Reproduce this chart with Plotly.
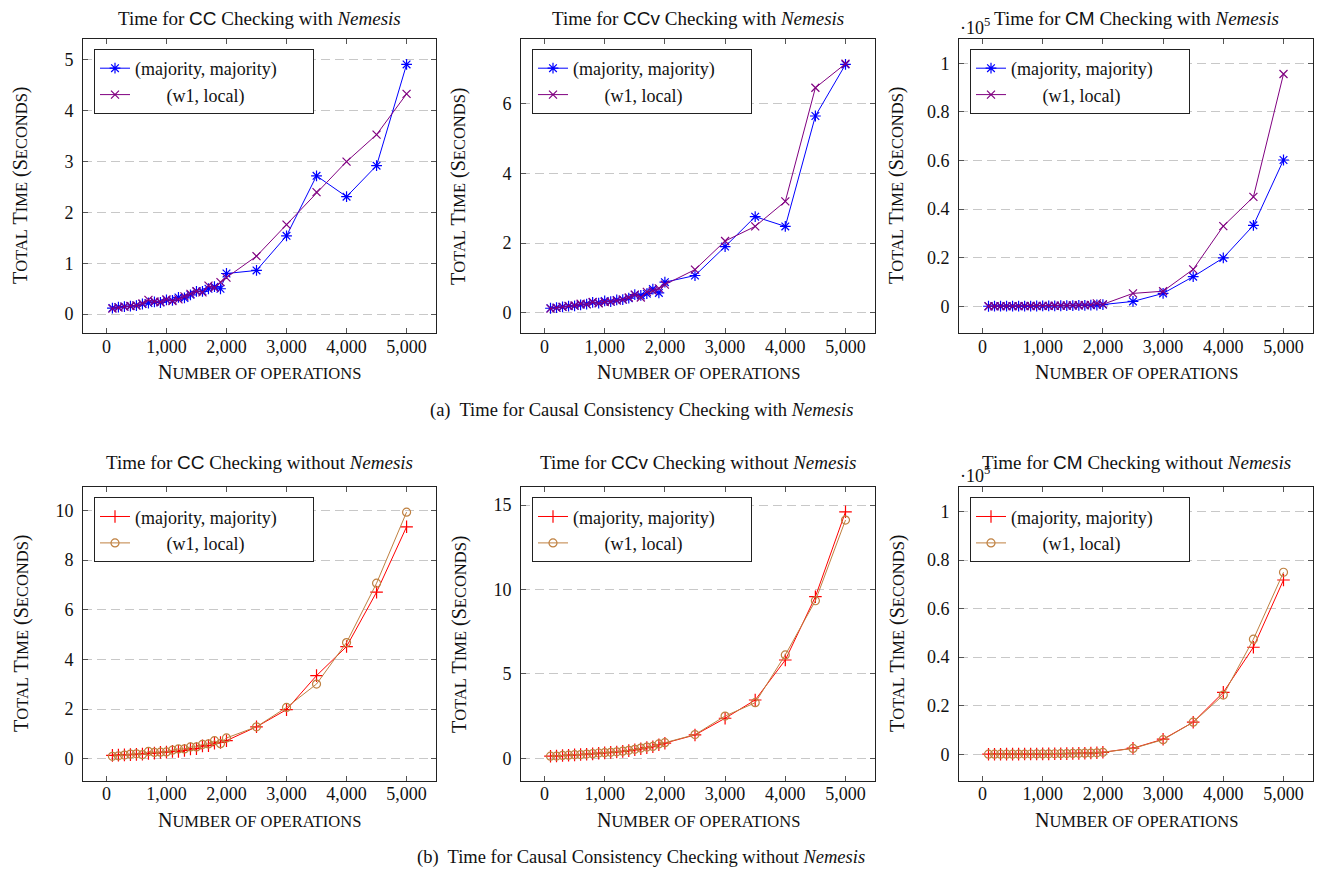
import plotly.graph_objects as go

# ---------------- data ----------------
ops = [100, 200, 300, 400, 500, 600, 700, 800, 900, 1000,
       1100, 1200, 1300, 1400, 1500, 1600, 1700, 1800, 1900, 2000,
       2500, 3000, 3500, 4000, 4500, 5000]

# (a) with Nemesis  (seconds)
cc_nem_majority = [0.12, 0.14, 0.15, 0.16, 0.17, 0.20, 0.22, 0.24, 0.23, 0.28,
                   0.27, 0.33, 0.32, 0.38, 0.45, 0.45, 0.50, 0.54, 0.50, 0.80,
                   0.86, 1.54, 2.72, 2.31, 2.92, 4.91]
cc_nem_local = [0.11, 0.13, 0.15, 0.16, 0.17, 0.21, 0.28, 0.25, 0.24, 0.29,
                0.26, 0.29, 0.35, 0.40, 0.45, 0.43, 0.56, 0.52, 0.63, 0.72,
                1.14, 1.76, 2.40, 3.00, 3.53, 4.33]

ccv_nem_majority = [0.13, 0.15, 0.17, 0.19, 0.20, 0.23, 0.25, 0.30, 0.28, 0.34,
                    0.32, 0.37, 0.38, 0.42, 0.52, 0.50, 0.55, 0.68, 0.57, 0.88,
                    1.07, 1.90, 2.76, 2.48, 5.65, 7.13]
ccv_nem_local = [0.12, 0.14, 0.17, 0.20, 0.21, 0.26, 0.24, 0.31, 0.27, 0.31,
                 0.32, 0.35, 0.38, 0.44, 0.52, 0.44, 0.60, 0.63, 0.70, 0.81,
                 1.24, 2.06, 2.48, 3.20, 6.46, 7.15]

cm_nem_majority = [10, 20, 30, 40, 50, 60, 80, 100, 120, 140,
                   160, 190, 220, 260, 300, 350, 400, 450, 520, 700,
                   2000, 5300, 12200, 19900, 33300, 60200]
cm_nem_local = [10, 20, 30, 40, 60, 70, 90, 110, 130, 160,
                190, 220, 260, 300, 350, 420, 500, 600, 1200, 800,
                5300, 6200, 15200, 33000, 45000, 95600]

# (b) without Nemesis (seconds)
cc_no_majority = [0.14, 0.15, 0.16, 0.17, 0.18, 0.19, 0.22, 0.23, 0.26, 0.27,
                  0.30, 0.30, 0.34, 0.40, 0.41, 0.52, 0.53, 0.63, 0.66, 0.73,
                  1.29, 1.98, 3.35, 4.52, 6.71, 9.34]
cc_no_local = [0.10, 0.12, 0.15, 0.19, 0.20, 0.17, 0.30, 0.26, 0.27, 0.28,
               0.35, 0.40, 0.40, 0.48, 0.48, 0.58, 0.60, 0.73, 0.61, 0.84,
               1.29, 2.07, 3.01, 4.68, 7.07, 9.93]

ccv_no_majority = [0.12, 0.13, 0.16, 0.18, 0.20, 0.22, 0.24, 0.26, 0.30, 0.32,
                   0.35, 0.37, 0.41, 0.45, 0.50, 0.56, 0.63, 0.68, 0.80, 0.89,
                   1.38, 2.37, 3.45, 5.82, 9.57, 14.60]
ccv_no_local = [0.12, 0.13, 0.17, 0.18, 0.21, 0.22, 0.25, 0.27, 0.31, 0.33,
                0.35, 0.38, 0.42, 0.47, 0.53, 0.60, 0.66, 0.70, 0.85, 0.92,
                1.40, 2.50, 3.29, 6.12, 9.33, 14.11]

cm_no_majority = [10, 20, 30, 40, 50, 60, 80, 100, 120, 140,
                  170, 200, 230, 270, 320, 370, 430, 500, 600, 800,
                  2500, 6200, 13200, 25500, 44100, 71800]
cm_no_local = [10, 20, 30, 40, 50, 60, 80, 100, 120, 140,
               170, 200, 230, 270, 320, 370, 430, 500, 600, 800,
               2400, 6000, 13200, 24400, 47400, 75000]

x_ticks = [0, 1000, 2000, 3000, 4000, 5000]
y_ticks = [
    [0, 1, 2, 3, 4, 5],
    [0, 2, 4, 6],
    [0, 20000, 40000, 60000, 80000, 100000],
    [0, 2, 4, 6, 8, 10],
    [0, 5, 10, 15],
    [0, 20000, 40000, 60000, 80000, 100000],
]
y_ticktext = [
    ["0", "1", "2", "3", "4", "5"],
    ["0", "2", "4", "6"],
    ["0", "0.2", "0.4", "0.6", "0.8", "1"],
    ["0", "2", "4", "6", "8", "10"],
    ["0", "5", "10", "15"],
    ["0", "0.2", "0.4", "0.6", "0.8", "1"],
]
series_labels = ["(majority, majority)", "(w1, local)"]
models = ["CC", "CCv", "CM", "CC", "CCv", "CM"]
modes = ["with", "with", "with", "without", "without", "without"]
captions = ["(a)  Time for Causal Consistency Checking with <i>Nemesis</i>",
            "(b)  Time for Causal Consistency Checking without <i>Nemesis</i>"]

panels = [
    (cc_nem_majority, cc_nem_local),
    (ccv_nem_majority, ccv_nem_local),
    (cm_nem_majority, cm_nem_local),
    (cc_no_majority, cc_no_local),
    (ccv_no_majority, ccv_no_local),
    (cm_no_majority, cm_no_local),
]
y_ranges = [[-0.37, 5.41], [-0.58, 7.86], [-11000, 110000],
            [-0.88, 10.93], [-1.33, 16.05], [-10900, 110000]]

# ---------------- styles ----------------
OFF = 8                      # page body margin of the html page
W, H = 1325 - OFF, 871 - OFF
FONT = "Liberation Serif"
SANS = "Liberation Sans"
BLUE, VIOLET, RED, BROWN = "#0000ff", "#800080", "#ff0000", "#bf8040"
styles_top = [(BLUE, "asterisk-open", 9), (VIOLET, "x-thin-open", 8)]
styles_bot = [(RED, "cross-thin-open", 9), (BROWN, "circle-open", 8)]

box_x = [(83, 436), (521, 875), (959, 1313)]
box_y = [(39, 333), (487.3, 780.7)]


def px(x):
    return (x - OFF) / W


def py(y):
    return 1 - (y - OFF) / H


fig = go.Figure()
annotations = []
layout = {}
SC = 'style="font-size:16.5px"'

for i, (maj, loc) in enumerate(panels):
    r, c = divmod(i, 3)
    n = i + 1
    xa = "x" if n == 1 else f"x{n}"
    ya = "y" if n == 1 else f"y{n}"
    lg = "legend" if n == 1 else f"legend{n}"
    styles = styles_top if r == 0 else styles_bot
    names = [series_labels[0] + "\u00a0\u2800\u2800",
             "\u00a0" * 7 + series_labels[1]]
    for vals, (col, sym, msz), name in zip((maj, loc), styles, names):
        fig.add_trace(go.Scatter(
            x=ops, y=vals, mode="lines+markers", name=name,
            xaxis=xa, yaxis=ya, legend=lg,
            line=dict(color=col, width=1),
            marker=dict(symbol=sym, size=msz, color=col,
                        line=dict(color=col, width=1.2)),
        ))
    x0, x1 = box_x[c]
    y0, y1 = box_y[r]
    axis_common = dict(
        showline=True, linecolor="#222", linewidth=1, mirror="ticks",
        ticks="inside", ticklen=5, tickcolor="#555", tickwidth=1,
        tickfont=dict(family=FONT, size=18, color="#111"),
        zeroline=False,
    )
    layout["xaxis" if n == 1 else f"xaxis{n}"] = dict(
        domain=[px(x0), px(x1)], anchor=ya, range=[-390, 5490],
        tickvals=x_ticks, tickformat=",d", showgrid=False,
        ticklabelstandoff=-3, **axis_common)
    layout["yaxis" if n == 1 else f"yaxis{n}"] = dict(
        domain=[py(y1), py(y0)], anchor=xa, range=y_ranges[i],
        tickvals=y_ticks[i], ticktext=y_ticktext[i],
        showgrid=True, gridcolor="#c8c8c8", gridwidth=1, griddash="9px,5px",
        ticklabelstandoff=5, **axis_common)
    layout[lg] = dict(
        x=px(x0 + 11), y=py(y0 + 10), xanchor="left", yanchor="top",
        bgcolor="white", bordercolor="#222", borderwidth=1,
        font=dict(family=FONT, size=18, color="#111"),
        itemwidth=30, tracegroupgap=0,
    )
    cx = (x0 + x1) / 2
    cy = (y0 + y1) / 2
    # panel title
    title = (f"Time for <span style=\"font-family:'{SANS}'\">{models[i]}</span>"
             f" Checking {modes[i]} <i>Nemesis</i>")
    annotations.append(dict(
        text=title, x=px(cx), y=py(18 if r == 0 else 462),
        xref="paper", yref="paper", showarrow=False,
        xanchor="center", yanchor="middle",
        font=dict(family=FONT, size=19, color="#111")))
    # y label
    annotations.append(dict(
        text=f'T<span {SC}>OTAL</span> T<span {SC}>IME</span> (S<span {SC}>ECONDS</span>)',
        x=px(x0 - 62), y=py(cy), xref="paper", yref="paper",
        showarrow=False, textangle=-90, xanchor="center", yanchor="middle",
        font=dict(family=FONT, size=20, color="#111")))
    # x label
    annotations.append(dict(
        text=f'N<span {SC}>UMBER OF OPERATIONS</span>',
        x=px(cx), y=py(y1 + 39), xref="paper", yref="paper",
        showarrow=False, xanchor="center", yanchor="middle",
        font=dict(family=FONT, size=20, color="#111")))
    if c == 2:
        annotations.append(dict(
            text="\u00b710<sup>5</sup>", x=px(x0 - 1), y=py(y0 + 1),
            xref="paper", yref="paper", showarrow=False,
            xanchor="left", yanchor="bottom",
            font=dict(family=FONT, size=18, color="#111")))

for k, cap in enumerate(captions):
    annotations.append(dict(
        text=cap, x=px(641), y=py(410 if k == 0 else 857),
        xref="paper", yref="paper", showarrow=False,
        xanchor="center", yanchor="middle",
        font=dict(family=FONT, size=18.5, color="#111")))

fig.update_layout(
    width=W, height=H, margin=dict(l=0, r=0, t=0, b=0),
    paper_bgcolor="white", plot_bgcolor="white",
    annotations=annotations, showlegend=True, **layout)

fig.write_html("out.html")
